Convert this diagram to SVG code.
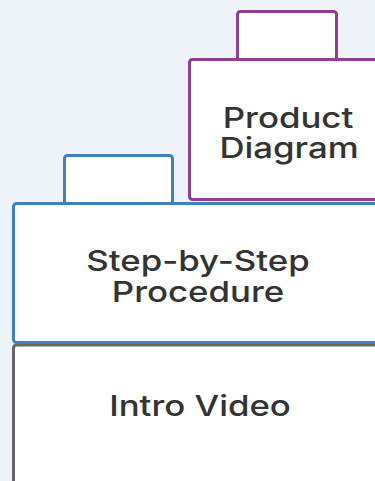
<svg xmlns="http://www.w3.org/2000/svg" width="375" height="481" viewBox="0 0 375 481">
<style>
.lbl{font-family:Inter,"Noto Sans","Liberation Sans",sans-serif;font-size:29px;font-weight:500;fill:#333333;text-anchor:middle}
.box{fill:#ffffff;stroke-width:3}
.p{stroke:#8e3f8e}
.b{stroke:#3f80bf}
.g{stroke:#666666}
</style>
<rect width="375" height="481" fill="#eef3fa"/>
<g id="connectors"></g>
<g id="intro-video">
<rect class="box g" x="13.5" y="345" width="380" height="160" rx="3"/>
<text class="lbl" transform="translate(200 416) scale(1.2 1)">Intro Video</text>
</g>
<g id="step-by-step">
<rect class="box b" x="64.5" y="155.5" width="108" height="60" rx="3"/>
<rect class="box b" x="13.5" y="203.5" width="380" height="139" rx="3"/>
<text class="lbl" transform="translate(198 271) scale(1.2 1)">Step-by-Step</text>
<text class="lbl" transform="translate(198 302) scale(1.2 1)">Procedure</text>
</g>
<g id="product-diagram">
<rect class="box p" x="237.5" y="11.5" width="99" height="60" rx="3"/>
<rect class="box p" x="189.5" y="59.5" width="200" height="140" rx="3"/>
<text class="lbl" transform="translate(288 128) scale(1.2 1)">Product</text>
<text class="lbl" transform="translate(289 158) scale(1.2 1)">Diagram</text>
</g>
</svg>
